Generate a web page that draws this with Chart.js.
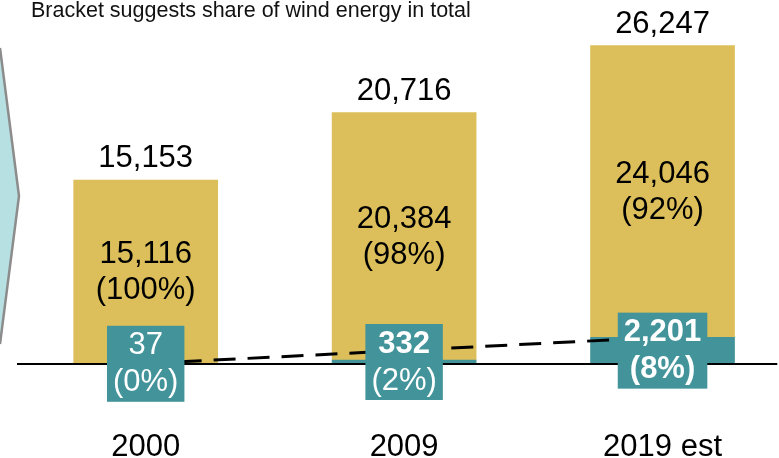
<!DOCTYPE html>
<html>
<head>
<meta charset="utf-8">
<script src="https://cdn.jsdelivr.net/npm/chart.js@4"></script>
<style>
  body { margin: 0; background: #fff; }
  canvas { display: block; }
</style>
</head>
<body>
<canvas id="windChart" width="779" height="458"></canvas>
<script>
// data
const years = ['2000', '2009', '2019 est']
const windValues = [37, 332, 2201]
const otherValues = [15116, 20384, 24046]
const totals = windValues.map((w, i) => w + otherValues[i])
const titleText = 'Bracket suggests share of wind energy in total'

const GOLD = '#dcbf5a'
const TEAL = '#42949a'
const FONT = '"Liberation Sans", Arial, sans-serif'
const SIZE = 31
// which wind label lines are bold (number, percent)
const windBold = [[false, false], [true, false], [true, true]]

const fmt = v => v.toLocaleString('en-US')
const pct = (v, i) => '(' + Math.round(v / totals[i] * 100) + '%)'

const decor = {
    id: 'decor',
    beforeDraw(chart) {
        const ctx = chart.ctx
        ctx.save()
        // chevron on the left
        ctx.beginPath()
        ctx.moveTo(-10, 48)
        ctx.lineTo(0, 48)
        ctx.lineTo(19, 196)
        ctx.lineTo(0, 344)
        ctx.lineTo(-10, 344)
        ctx.closePath()
        ctx.fillStyle = '#b7e0e3'
        ctx.fill()
        ctx.beginPath()
        ctx.moveTo(0, 48)
        ctx.lineTo(19, 196)
        ctx.lineTo(0, 344)
        ctx.strokeStyle = '#8c8c8c'
        ctx.lineWidth = 2.5
        ctx.stroke()
        // title
        ctx.fillStyle = '#111'
        ctx.font = '21.5px ' + FONT
        ctx.textBaseline = 'alphabetic'
        ctx.textAlign = 'left'
        ctx.fillText(titleText, 31, 17)
        ctx.restore()
    },
    afterDatasetsDraw(chart) {
        const ctx = chart.ctx
        const area = chart.chartArea
        const y0 = chart.scales.y.getPixelForValue(0)
        const windMeta = chart.getDatasetMeta(1)
        const otherMeta = chart.getDatasetMeta(2)
        ctx.save()
        // baseline
        ctx.beginPath()
        ctx.moveTo(area.left, y0)
        ctx.lineTo(area.right, y0)
        ctx.strokeStyle = '#000'
        ctx.lineWidth = 2
        ctx.stroke()

        ctx.textAlign = 'center'
        otherMeta.data.forEach((bar, i) => {
            const cx = bar.x
            // total above bar
            ctx.fillStyle = '#000'
            ctx.font = SIZE + 'px ' + FONT
            ctx.textBaseline = 'alphabetic'
            ctx.fillText(fmt(totals[i]), cx, bar.y - 13)
            // other energy inside gold part
            ctx.textBaseline = 'middle'
            const c = (bar.y + bar.base) / 2
            ctx.fillText(fmt(otherValues[i]), cx, c - 17)
            ctx.fillText(pct(otherValues[i], i), cx, c + 19)
        })
        ctx.textBaseline = 'middle'
        windMeta.data.forEach((bar, i) => {
            const cx = bar.x
            const c = (bar.y + bar.base) / 2
            const l1 = fmt(windValues[i])
            const l2 = pct(windValues[i], i)
            const f1 = (windBold[i][0] ? 'bold ' : '') + SIZE + 'px ' + FONT
            const f2 = (windBold[i][1] ? 'bold ' : '') + SIZE + 'px ' + FONT
            ctx.font = f1
            let w = ctx.measureText(l1).width
            ctx.font = f2
            w = Math.max(w, ctx.measureText(l2).width)
            const bw = w + 12
            const bh = 76
            ctx.fillStyle = TEAL
            ctx.fillRect(cx - bw / 2, c - bh / 2, bw, bh)
            ctx.fillStyle = '#fff'
            ctx.font = f1
            ctx.fillText(l1, cx, c - 18)
            ctx.font = f2
            ctx.fillText(l2, cx, c + 19)
        })
        ctx.restore()
    }
}

new Chart(document.getElementById('windChart'), {
    type: 'bar',
    data: {
        datasets: [{
            type: 'line',
            label: 'trend',
            data: [{ x: 0, y: windValues[0] }, { x: 2, y: windValues[2] }],
            stack: 'trend',
            borderColor: '#000',
            borderWidth: 3,
            borderDash: [22, 12],
            pointRadius: 0,
            fill: false,
            order: 0
        }, {
            label: 'Wind',
            data: windValues.map((v, i) => ({ x: i, y: v })),
            backgroundColor: TEAL,
            stack: 'energy',
            barThickness: 144,
            order: 1
        }, {
            label: 'Other',
            data: otherValues.map((v, i) => ({ x: i, y: v })),
            backgroundColor: GOLD,
            stack: 'energy',
            barThickness: 144,
            order: 1
        }]
    },
    options: {
        responsive: false,
        animation: false,
        layout: { padding: { left: 17, top: 0, right: 0, bottom: 0 } },
        plugins: {
            legend: { display: false },
            tooltip: { enabled: false }
        },
        scales: {
            x: {
                type: 'linear',
                stacked: true,
                offset: false,
                min: -0.498,
                max: 2.444,
                grid: { display: false },
                border: { display: false },
                afterBuildTicks: s => { s.ticks = years.map((_, i) => ({ value: i })) },
                afterFit: s => { s.height = 94 },
                ticks: {
                    padding: 57,
                    color: '#000',
                    font: { family: FONT, size: SIZE },
                    callback: v => years[v]
                }
            },
            y: {
                display: false,
                stacked: true,
                min: 0,
                max: 30000
            }
        }
    },
    plugins: [decor]
})
</script>
</body>
</html>
